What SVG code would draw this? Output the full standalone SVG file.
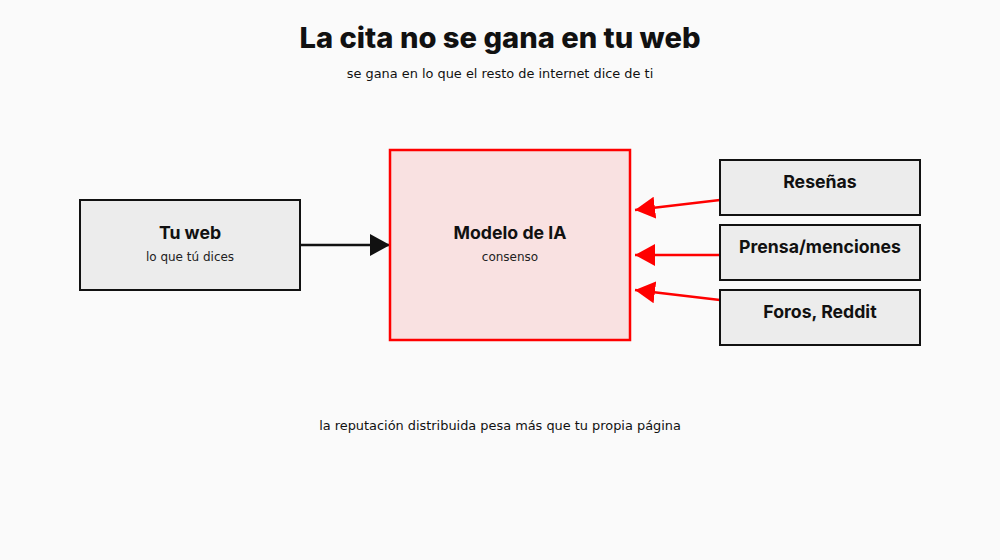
<svg xmlns="http://www.w3.org/2000/svg" width="1000" height="560" viewBox="0 0 1000 560">
  <style>
    .title { font-family: Inter, "Open Sans", "DejaVu Sans", sans-serif; font-weight: 800; font-size: 28px; fill: #111; }
    .body { font-family: "DejaVu Sans", sans-serif; font-size: 12.9px; fill: #111; }
    .label { font-family: Inter, "Open Sans", "DejaVu Sans", sans-serif; font-weight: 700; font-size: 17.7px; fill: #111; }
    .sub { font-family: "DejaVu Sans", sans-serif; font-size: 12px; fill: #222; }
    .box { fill: #ececec; stroke: #111; stroke-width: 2; }
    .core { fill: #f9e1e1; stroke: #ff0000; stroke-width: 2.5; }
    .blk { stroke: #111; stroke-width: 2.5; fill: none; }
    .red { stroke: #ff0000; stroke-width: 2.5; fill: none; }
  </style>
  <defs>
    <marker id="ah-black" viewBox="0 0 20 22" refX="20" refY="11" markerWidth="20" markerHeight="22" markerUnits="userSpaceOnUse" orient="auto">
      <path d="M0,0 L20,11 L0,22 Z" fill="#111"/>
    </marker>
    <marker id="ah-red" viewBox="0 0 20 22" refX="20" refY="11" markerWidth="20" markerHeight="22" markerUnits="userSpaceOnUse" orient="auto">
      <path d="M0,0 L20,11 L0,22 Z" fill="#ff0000"/>
    </marker>
  </defs>
  <rect width="1000" height="560" fill="#fafafa"/>
  <text class="title" x="500" y="48" text-anchor="middle" textLength="401" lengthAdjust="spacingAndGlyphs">La cita no se gana en tu web</text>
  <text class="body" x="500" y="78" text-anchor="middle">se gana en lo que el resto de internet dice de ti</text>

  <g id="connectors">
    <line class="blk" x1="300" y1="245" x2="390" y2="245" marker-end="url(#ah-black)"/>
    <line class="red" x1="720" y1="200" x2="635" y2="210" marker-end="url(#ah-red)"/>
    <line class="red" x1="720" y1="255" x2="635" y2="255" marker-end="url(#ah-red)"/>
    <line class="red" x1="720" y1="300" x2="635" y2="290" marker-end="url(#ah-red)"/>
  </g>

  <g id="tuweb">
    <rect class="box" x="80" y="200" width="220" height="90"/>
    <text class="label" x="190" y="239" text-anchor="middle">Tu web</text>
    <text class="sub" x="190" y="261" text-anchor="middle">lo que tú dices</text>
  </g>
  <g id="modelo">
    <rect class="core" x="390" y="150" width="240" height="190"/>
    <text class="label" x="510" y="239" text-anchor="middle">Modelo de IA</text>
    <text class="sub" x="510" y="261" text-anchor="middle">consenso</text>
  </g>
  <g id="resenas">
    <rect class="box" x="720" y="160" width="200" height="55"/>
    <text class="label" x="820" y="188" text-anchor="middle">Reseñas</text>
  </g>
  <g id="prensa">
    <rect class="box" x="720" y="225" width="200" height="55"/>
    <text class="label" x="820" y="253" text-anchor="middle">Prensa/menciones</text>
  </g>
  <g id="foros">
    <rect class="box" x="720" y="290" width="200" height="55"/>
    <text class="label" x="820" y="318" text-anchor="middle">Foros, Reddit</text>
  </g>

  <text class="body" x="500" y="430" text-anchor="middle">la reputación distribuida pesa más que tu propia página</text>
</svg>
